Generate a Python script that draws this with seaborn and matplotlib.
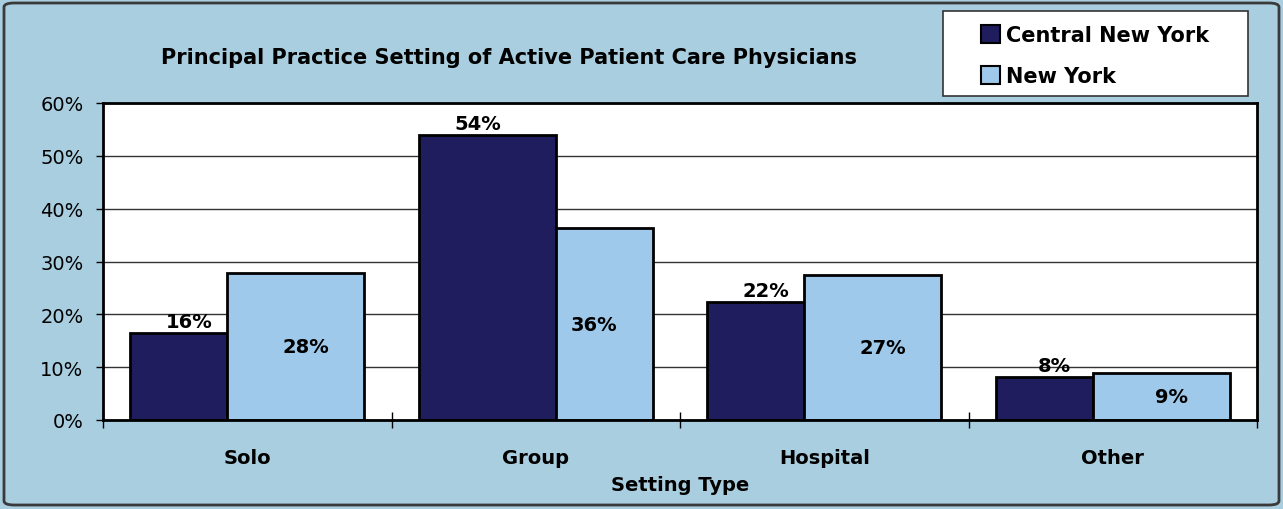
import pandas as pd
import matplotlib.pyplot as plt
import seaborn as sns
from matplotlib.patches import FancyBboxPatch, Rectangle
from matplotlib.ticker import FixedLocator, FuncFormatter

# Data
settings = ["Solo", "Group", "Hospital", "Other"]
regions = ["Central New York", "New York"]
central_ny = [16.4, 53.9, 22.4, 8.2]
new_york = [27.8, 36.3, 27.4, 8.9]

# Style
colors = ["#201D5E", "#9FC9EA"]
bg = "#A9CEDF"
group_width = 0.81
# where the dark/light boundary sits inside each group (offset from center)
split = [-0.07, 0.07, -0.07, -0.07]

df = pd.DataFrame({
    "Setting": settings * 2,
    "Region": [regions[0]] * len(settings) + [regions[1]] * len(settings),
    "Share": central_ny + new_york,
})

sns.set_theme(style="white")
plt.rcParams["font.family"] = ["DejaVu Sans"]
plt.rcParams["text.color"] = "black"
plt.rcParams["xtick.color"] = "black"
plt.rcParams["ytick.color"] = "black"
plt.rcParams["axes.labelcolor"] = "black"

W, H = 1283, 510
fig = plt.figure(figsize=(W / 100, H / 100), dpi=100, facecolor=bg)
ax = fig.add_axes([103 / W, 1 - 421 / H, (1257 - 103) / W, (421 - 104) / H])

sns.barplot(data=df, x="Setting", y="Share", hue="Region", palette=colors,
            width=group_width, edgecolor="black", linewidth=2, ax=ax,
            legend=False, saturation=1)

# resize bars like the original and add labels
half = group_width / 2
for k, cont in enumerate(ax.containers):
    for i, bar in enumerate(cont.patches):
        v = bar.get_height()
        label_x = bar.get_x() + bar.get_width() / 2
        if k == 0:
            bar.set_x(i - half)
            bar.set_width(half + split[i])
            ax.text(label_x, v + 0.4, f"{round(v)}%", ha="center", va="bottom",
                    fontsize=14, fontweight="bold", color="black")
        else:
            bar.set_x(i + split[i])
            bar.set_width(half - split[i])
            ax.text(label_x, v / 2, f"{round(v)}%", ha="center", va="center",
                    fontsize=14, fontweight="bold", color="black")

ax.set_ylim(0, 60)
ax.set_xlim(-0.5, len(settings) - 0.5)
ax.yaxis.set_major_locator(FixedLocator(range(0, 61, 10)))
ax.yaxis.set_major_formatter(FuncFormatter(lambda v, p: f"{v:.0f}%"))
ax.grid(axis="y", color="#333333", linewidth=1)
ax.set_axisbelow(True)
for s in ax.spines.values():
    s.set_color("black")
    s.set_linewidth(2)

ax.tick_params(axis="y", which="major", direction="out", length=5, width=1,
               pad=9, labelsize=14, color="black", left=True)
ax.tick_params(axis="x", which="major", length=0, pad=20, labelsize=14)
ax.xaxis.set_minor_locator(FixedLocator([i + 0.5 for i in range(-1, len(settings))]))
ax.tick_params(axis="x", which="minor", direction="inout", length=12, width=1,
               color="black", bottom=True)
for t in ax.get_xticklabels():
    t.set_fontweight("bold")

ax.set_xlabel("Setting Type", fontsize=14, fontweight="bold", labelpad=6)
ax.set_ylabel("")

fig.text(509 / W, 1 - 58 / H, "Principal Practice Setting of Active Patient Care Physicians",
         ha="center", va="center", fontsize=15, fontweight="bold")

# legend box
fig.patches.append(Rectangle((943 / W, 1 - 97 / H), (1248 - 943) / W, (97 - 12) / H,
                             transform=fig.transFigure, facecolor="white",
                             edgecolor="#333333", linewidth=1.2))
handles = [Rectangle((0, 0), 1, 1, facecolor=c, edgecolor="black", linewidth=1.5)
           for c in colors]
fig.legend(handles, regions, loc="upper left", bbox_to_anchor=(975 / W, 1 - 20 / H),
           frameon=False, prop={"size": 15, "weight": "bold"},
           handlelength=0.9, handleheight=0.9, handletextpad=0.3, labelspacing=1.0,
           borderaxespad=0, borderpad=0.3)

# rounded figure border
fig.patches.append(FancyBboxPatch((4 / W, 4 / H), (W - 8) / W, (H - 8) / H,
                                  boxstyle="round,pad=0,rounding_size=0.008",
                                  transform=fig.transFigure, facecolor="none",
                                  edgecolor="#3a3a3a", linewidth=2))

fig.savefig("out.png", dpi=100, facecolor=bg)
